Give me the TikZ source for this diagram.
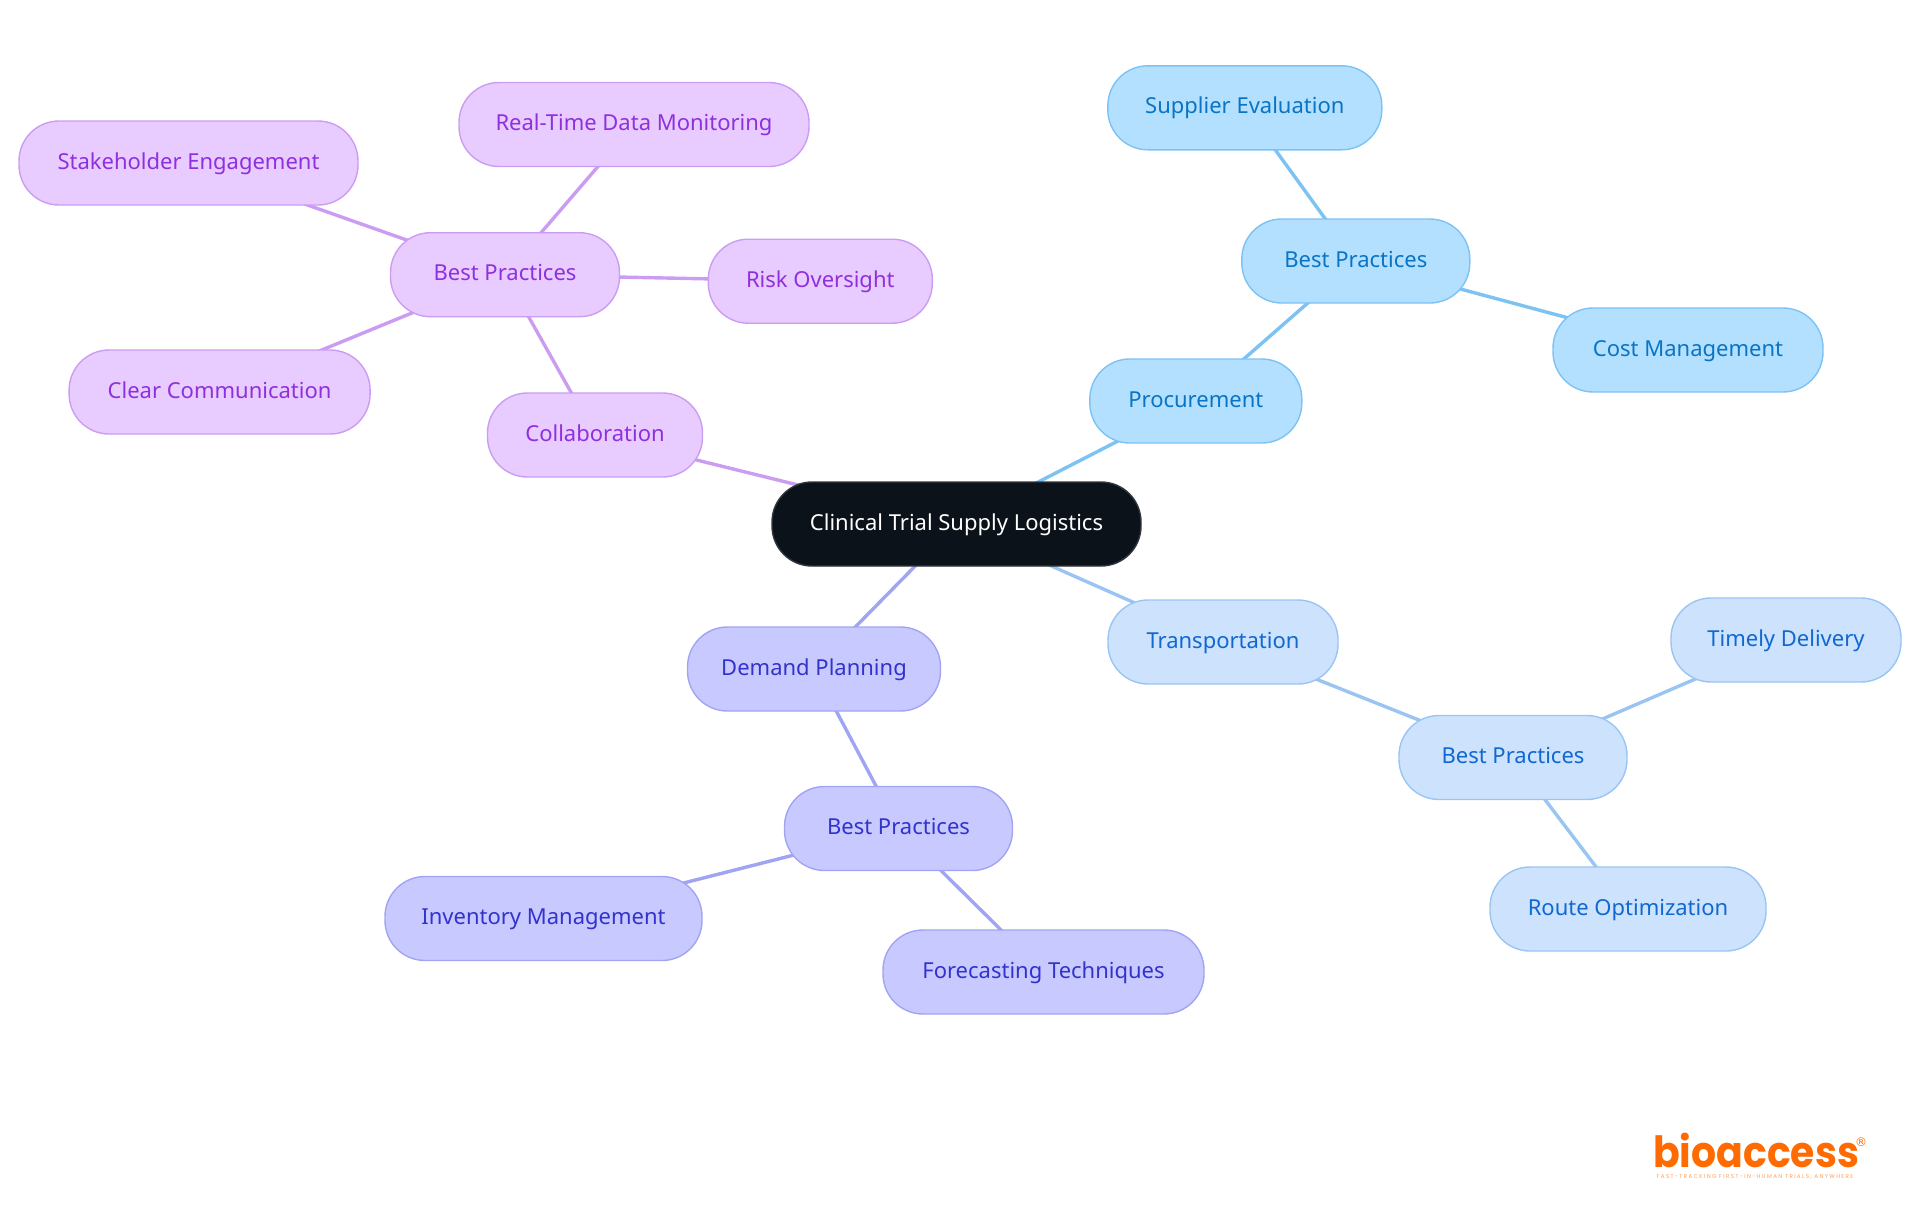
\documentclass[tikz,border=0pt]{standalone}
\usepackage{fontspec}
\usepackage{graphicx}
\setmainfont{Noto Sans}
\newfontfamily\logofont{Poppins}
\newfontfamily\regfont{DejaVu Sans}
\usetikzlibrary{backgrounds}
\definecolor{rootfill}{HTML}{0B1219}
\definecolor{purfill}{HTML}{E8CCFF}
\definecolor{purline}{HTML}{CB9DF2}
\definecolor{purtext}{HTML}{8F2FDD}
\definecolor{skyfill}{HTML}{B3E0FF}
\definecolor{skyline}{HTML}{7CC2F3}
\definecolor{skytext}{HTML}{0A74C4}
\definecolor{palefill}{HTML}{CCE2FD}
\definecolor{paleline}{HTML}{9AC5F3}
\definecolor{paletext}{HTML}{1068D0}
\definecolor{indfill}{HTML}{C8CAFF}
\definecolor{indline}{HTML}{A0A4F2}
\definecolor{indtext}{HTML}{3232CC}
\definecolor{logoorange}{HTML}{FF6B00}
\tikzset{
	box/.style={rectangle,rounded corners=20pt,minimum height=42pt,inner sep=0pt,line width=.7pt,text height=8pt,text depth=2pt,font=\fontsize{11}{13}\selectfont,minimum width=#1*.5pt},
	rootbox/.style={box=#1,fill=rootfill,draw=rootfill!85!white,text=white},
	purbox/.style={box=#1,fill=purfill,draw=purline,text=purtext},
	skybox/.style={box=#1,fill=skyfill,draw=skyline,text=skytext},
	palebox/.style={box=#1,fill=palefill,draw=paleline,text=paletext},
	indbox/.style={box=#1,fill=indfill,draw=indline,text=indtext},
	link/.style={line width=1.7pt}
}
\begin{document}
\begin{tikzpicture}[x=.5pt,y=-.5pt]
	\useasboundingbox (0,0) rectangle (1920,1215);
	\node[rootbox=369] (root) at (956.5,524) {Clinical Trial Supply Logistics};

	\node[purbox=215] (collab) at (595,435) {Collaboration};
	\node[purbox=229] (bestpur) at (505,274.7) {Best Practices};
	\node[purbox=350] (realtime) at (634,124.5) {Real-Time Data Monitoring};
	\node[purbox=339] (stake) at (188.5,163) {Stakeholder Engagement};
	\node[purbox=224] (risk) at (820.3,281.2) {Risk Oversight};
	\node[purbox=301] (clear) at (219.6,392) {Clear Communication};

	\node[skybox=212] (procure) at (1195.8,401) {Procurement};
	\node[skybox=228] (bestsky) at (1355.8,261) {Best Practices};
	\node[skybox=274] (supplier) at (1244.8,107.8) {Supplier Evaluation};
	\node[skybox=270] (cost) at (1688,350) {Cost Management};

	\node[palebox=230] (transport) at (1223,642) {Transportation};
	\node[palebox=228] (bestpale) at (1513,757.5) {Best Practices};
	\node[palebox=230] (timely) at (1786,640) {Timely Delivery};
	\node[palebox=276] (route) at (1628,909) {Route Optimization};

	\node[indbox=253] (demand) at (814,669) {Demand Planning};
	\node[indbox=228] (bestind) at (898.5,828.5) {Best Practices};
	\node[indbox=317] (inventory) at (543.5,918.5) {Inventory Management};
	\node[indbox=321] (forecast) at (1043.5,972) {Forecasting Techniques};

	\begin{scope}[on background layer]
		\draw[link,purline] (root.center) -- (collab.center);
		\draw[link,purline] (collab.center) -- (bestpur.center);
		\draw[link,purline] (bestpur.center) -- (realtime.center);
		\draw[link,purline] (bestpur.center) -- (stake.center);
		\draw[link,purline] (bestpur.center) -- (risk.center);
		\draw[link,purline] (bestpur.center) -- (clear.center);
		\draw[link,skyline] (root.center) -- (procure.center);
		\draw[link,skyline] (procure.center) -- (bestsky.center);
		\draw[link,skyline] (bestsky.center) -- (supplier.center);
		\draw[link,skyline] (bestsky.center) -- (cost.center);
		\draw[link,paleline] (root.center) -- (transport.center);
		\draw[link,paleline] (transport.center) -- (bestpale.center);
		\draw[link,paleline] (bestpale.center) -- (timely.center);
		\draw[link,paleline] (bestpale.center) -- (route.center);
		\draw[link,indline] (root.center) -- (demand.center);
		\draw[link,indline] (demand.center) -- (bestind.center);
		\draw[link,indline] (bestind.center) -- (inventory.center);
		\draw[link,indline] (bestind.center) -- (forecast.center);
	\end{scope}

	\node[anchor=base,inner sep=0pt,text=logoorange,font=\logofont\bfseries\fontsize{21.5}{23}\selectfont] (logo) at (1756,1167) {\scalebox{.915}[1]{bioaccess}};
	\node[inner sep=0pt,text=logoorange,font=\regfont\fontsize{6}{6}\selectfont] (reg) at (1861,1142) {®};
	\node[inner sep=0pt,text=logoorange!65!white,font=\logofont\fontsize{2.8}{3}\selectfont\addfontfeature{LetterSpace=24}] (tagline) at (1755,1177) {FAST-TRACKING FIRST-IN-HUMAN TRIALS, ANYWHERE};
\end{tikzpicture}
\end{document}
